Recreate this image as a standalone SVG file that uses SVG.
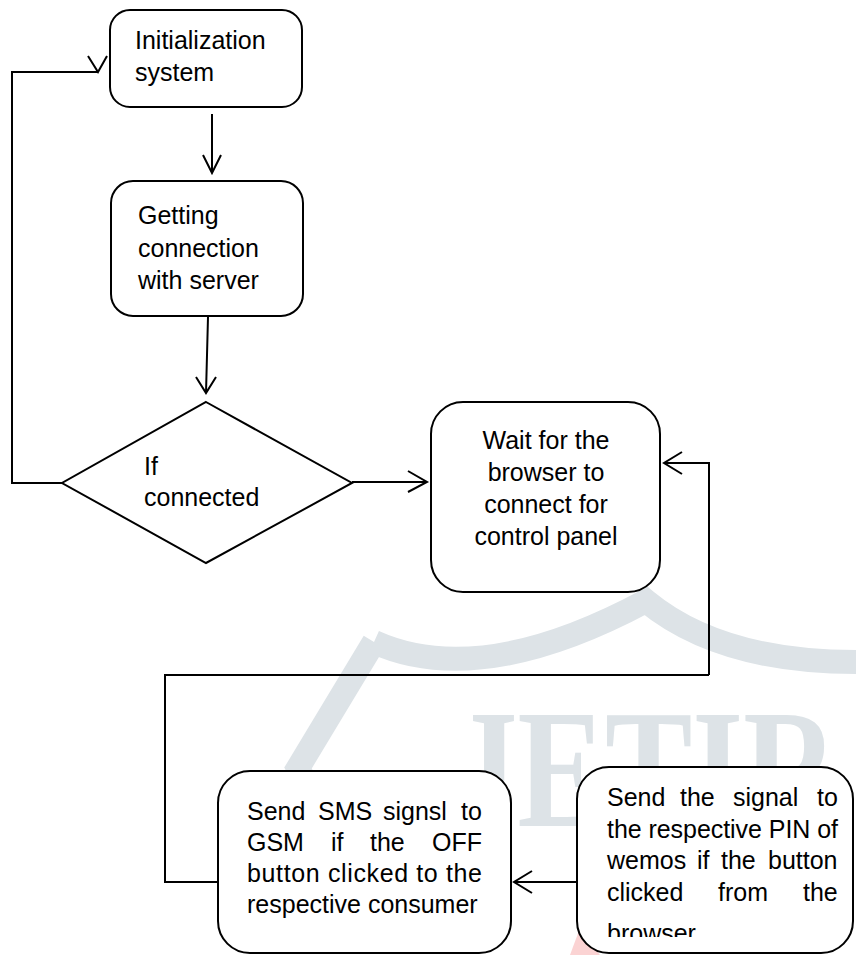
<svg xmlns="http://www.w3.org/2000/svg" width="856" height="955" viewBox="0 0 856 955">
<defs>
<style>
.box{fill:#fff;stroke:#000;stroke-width:2}
.ln{fill:none;stroke:#000;stroke-width:2;stroke-linejoin:miter}
.t{font-family:"Liberation Sans",Arial,sans-serif;font-size:25px;fill:#000}
.wm{fill:none;stroke:#dde3e7;stroke-width:24}
</style>
<clipPath id="clipR"><rect x="577" y="767" width="279" height="170"/></clipPath>
</defs>
<rect width="856" height="955" fill="#fff"/>
<g id="watermark">
  <path class="wm" d="M374 642 L298 768 L330 830"/>
  <path class="wm" d="M374 642 Q480 690 646 601 Q720 662 856 662"/>
  <text x="452" y="826" font-family="Liberation Serif,serif" font-weight="bold" font-size="170" textLength="386" lengthAdjust="spacingAndGlyphs" fill="#dde3e7">JETIR</text>
  <path d="M570 955 L580 928 L600 955 Z" fill="#fbd3d3"/>
</g>
<g id="connectors">
  <path class="ln" d="M212 114 V173 M203 155 L212 173 L221 155"/>
  <path class="ln" d="M208 317 L206 393 M196 377 L206 393 L216 377"/>
  <path class="ln" d="M62 483 H12 V72 H98 M88 56 L98 72 L107 56"/>
  <path class="ln" d="M352 482 H427 M408 471 L427 482 L408 492"/>
  <path class="ln" d="M709 675 V463 H664 M682 452 L664 463 L682 474"/>
  <path class="ln" d="M709 675 H165 V882 H218"/>
  <path class="ln" d="M577 882 H514 M532 871 L514 882 L532 893"/>
</g>
<g id="n1">
  <rect class="box" x="110" y="10" width="192" height="97" rx="20"/>
  <text class="t" x="135" y="49">Initialization</text>
  <text class="t" x="135" y="81">system</text>
</g>
<g id="n2">
  <rect class="box" x="111" y="181" width="192" height="135" rx="22"/>
  <text class="t" x="138" y="224">Getting</text>
  <text class="t" x="138" y="257">connection</text>
  <text class="t" x="138" y="289">with server</text>
</g>
<g id="n3">
  <polygon class="box" points="206,402 352,483 206,563 62,483"/>
  <text class="t" x="144" y="475">If</text>
  <text class="t" x="144" y="506">connected</text>
</g>
<g id="n4">
  <rect class="box" x="431" y="402" width="229" height="190" rx="32"/>
  <text class="t" x="546" y="449" text-anchor="middle">Wait for the</text>
  <text class="t" x="546" y="481" text-anchor="middle">browser to</text>
  <text class="t" x="546" y="513" text-anchor="middle">connect for</text>
  <text class="t" x="546" y="545" text-anchor="middle">control panel</text>
</g>
<g id="n5">
  <rect class="box" x="218" y="771" width="293" height="182" rx="32"/>
  <text class="t" y="820"><tspan x="247">Send</tspan><tspan x="318">SMS</tspan><tspan x="383">signsl</tspan><tspan x="461">to</tspan></text>
  <text class="t" y="851"><tspan x="247">GSM</tspan><tspan x="331">if</tspan><tspan x="370">the</tspan><tspan x="432">OFF</tspan></text>
  <text class="t" y="882" textLength="235" lengthAdjust="spacing" x="247">button clicked to the</text>
  <text class="t" x="247" y="913">respective consumer</text>
</g>
<g id="n6">
  <rect class="box" x="577" y="767" width="276" height="186" rx="32"/>
  <g clip-path="url(#clipR)">
  <text class="t" y="806"><tspan x="607">Send</tspan><tspan x="680">the</tspan><tspan x="733">signal</tspan><tspan x="817">to</tspan></text>
  <text class="t" x="607" y="838" textLength="231" lengthAdjust="spacing">the respective PIN of</text>
  <text class="t" y="869"><tspan x="607">wemos</tspan><tspan x="697">if</tspan><tspan x="721">the</tspan><tspan x="768">button</tspan></text>
  <text class="t" y="901"><tspan x="607">clicked</tspan><tspan x="718">from</tspan><tspan x="803">the</tspan></text>
  <text class="t" x="607" y="942">browser</text>
  </g>
</g>
</svg>
